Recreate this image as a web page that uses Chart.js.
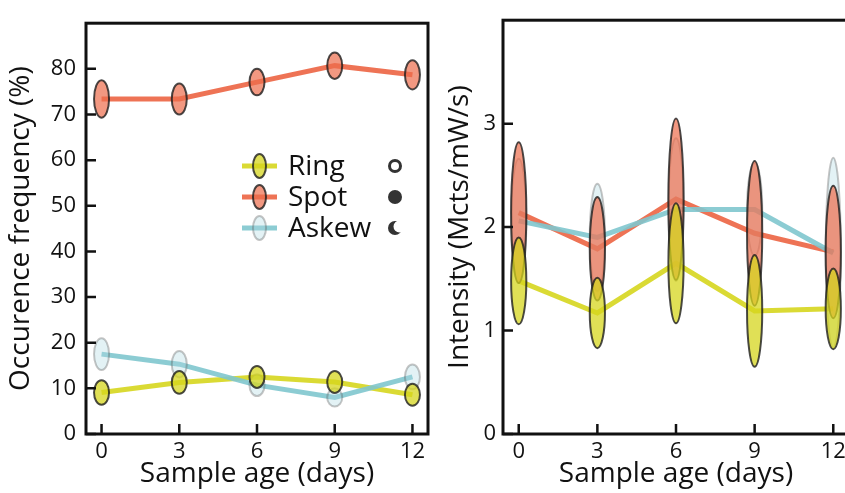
<!DOCTYPE html>
<html>
<head>
<meta charset="utf-8">
<script src="https://cdn.jsdelivr.net/npm/chart.js@4.4.1/dist/chart.umd.min.js"></script>
<style>
html,body{margin:0;padding:0;background:#fff;overflow:hidden;width:845px;height:493px}
#wrap{position:relative;width:845px;height:493px;overflow:hidden}
#left{position:absolute;left:0;top:0}
#right{position:absolute;left:440px;top:0}
</style>
</head>
<body>
<div id="wrap">
  <canvas id="left" width="440" height="493"></canvas>
  <canvas id="right" width="420" height="493"></canvas>
</div>
<script>
// data
const days = [0, 3, 6, 9, 12];
const dayTicks = [0, 3, 6, 9, 12];
const freqTicks = [0, 10, 20, 30, 40, 50, 60, 70, 80];
const intTicks = [0, 1, 2, 3];

const freqRing  = [9.1, 11.3, 12.5, 11.4, 8.6];
const freqSpot  = [73.4, 73.4, 77.1, 80.7, 78.7];
const freqAskew = [17.5, 15.3, 10.7, 8.0, 12.5];
const freqRingErr  = [2.7, 2.5, 2.4, 2.4, 2.4];
const freqSpotErr  = [4.1, 3.4, 2.9, 2.9, 3.2];
const freqAskewErr = [3.5, 2.9, 2.4, 2.0, 2.7];

const intRing  = [1.48, 1.17, 1.65, 1.19, 1.21];
const intSpot  = [2.14, 1.79, 2.27, 1.94, 1.76];
const intAskew = [2.06, 1.90, 2.17, 2.17, 1.75];
const intRingErr  = [0.42, 0.34, 0.58, 0.54, 0.39];
const intSpotErr  = [0.68, 0.50, 0.78, 0.70, 0.64];
const intAskewErr = [0.60, 0.52, 0.69, 0.45, 0.92];

const seriesNames = ['Ring', 'Spot', 'Askew'];

const FONT = "'Open Sans', sans-serif";
const INK = '#111';
const styles = {
  Ring:  {line: 'rgba(214,214,30,0.9)',  fill: 'rgba(214,214,30,0.75)',  edge: 'rgba(30,30,30,0.8)'},
  Spot:  {line: 'rgba(236,100,66,0.9)',  fill: 'rgba(236,108,76,0.7)',   edge: 'rgba(30,30,30,0.8)'},
  Askew: {line: 'rgba(128,198,206,0.9)', fill: 'rgba(175,218,226,0.35)', edge: 'rgba(90,90,90,0.35)'}
};

function qs(sel){return document.querySelector(sel)}

function toPoints(vals){ return vals.map((v,i)=>({x: days[i], y: v})) }

function makeDatasets(vals, errs){
  return seriesNames.map((name,i)=>({
    label: name,
    data: toPoints(vals[i]),
    err: errs[i],
    borderColor: styles[name].line,
    borderWidth: 5,
    pointRadius: 0,
    tension: 0,
    order: 3 - i
  }));
}

// ellipse markers: width fixed in days, height = +/- err in y units
const ellipses = {
  id: 'ellipses',
  afterDatasetsDraw(chart, args, opts){
    const {ctx, scales:{x, y}} = chart;
    ctx.save();
    ctx.beginPath();
    ctx.rect(chart.chartArea.left, chart.chartArea.top, chart.chartArea.width + 20, chart.chartArea.height);
    ctx.clip();
    for (let d = chart.data.datasets.length - 1; d >= 0; d--) {
      const ds = chart.data.datasets[d];
      const st = styles[ds.label];
      ds.data.forEach((p, i) => {
        const cx = x.getPixelForValue(p.x);
        const cy = y.getPixelForValue(p.y);
        const rx = Math.abs(x.getPixelForValue(p.x + opts.halfWidth) - cx);
        const ry = Math.abs(y.getPixelForValue(p.y + ds.err[i]) - cy);
        ctx.beginPath();
        ctx.ellipse(cx, cy, rx, ry, 0, 0, Math.PI * 2);
        ctx.fillStyle = st.fill;
        ctx.fill();
        ctx.lineWidth = 2;
        ctx.strokeStyle = st.edge;
        ctx.stroke();
      });
    }
    ctx.restore();
  }
};

// box frame with inward ticks
const frame = {
  id: 'frame',
  afterDraw(chart){
    const {ctx, chartArea: a, scales:{x, y}} = chart;
    ctx.save();
    ctx.strokeStyle = INK;
    ctx.lineWidth = 3;
    ctx.strokeRect(a.left, a.top, a.width, a.height);
    ctx.lineWidth = 2.5;
    ctx.beginPath();
    x.ticks.forEach(t => {
      const px = x.getPixelForValue(t.value);
      ctx.moveTo(px, a.bottom); ctx.lineTo(px, a.bottom - 10);
    });
    y.ticks.forEach(t => {
      const py = y.getPixelForValue(t.value);
      ctx.moveTo(a.left, py); ctx.lineTo(a.left + 10, py);
    });
    ctx.stroke();
    ctx.restore();
  }
};

// legend inside left panel, with the shape keys on the right
const legendBox = {
  id: 'legendBox',
  afterDraw(chart, args, opts){
    if (!opts.show) return;
    const {ctx} = chart;
    ctx.save();
    seriesNames.forEach((name, i) => {
      const yy = opts.y + i * opts.gap;
      const st = styles[name];
      ctx.strokeStyle = st.line;
      ctx.lineWidth = 5;
      ctx.beginPath();
      ctx.moveTo(opts.x, yy); ctx.lineTo(opts.x + 35, yy);
      ctx.stroke();
      ctx.beginPath();
      ctx.ellipse(opts.x + 17.5, yy, 6.5, 12, 0, 0, Math.PI * 2);
      ctx.fillStyle = st.fill; ctx.fill();
      ctx.lineWidth = 2; ctx.strokeStyle = st.edge; ctx.stroke();
      ctx.fillStyle = INK;
      ctx.font = `28px ${FONT}`;
      ctx.textBaseline = 'middle';
      ctx.textAlign = 'left';
      ctx.fillText(name, opts.x + 46, yy + 1);
      // key shapes
      const sx = opts.x + 153;
      ctx.fillStyle = '#333'; ctx.strokeStyle = '#333';
      if (i === 0) {
        ctx.lineWidth = 3;
        ctx.beginPath(); ctx.arc(sx, yy, 5.5, 0, Math.PI * 2); ctx.stroke();
      } else if (i === 1) {
        ctx.beginPath(); ctx.arc(sx, yy, 7, 0, Math.PI * 2); ctx.fill();
      } else {
        ctx.save();
        ctx.beginPath();
        ctx.rect(sx - 20, yy - 20, 40, 40);
        ctx.arc(sx + 4.5, yy - 1.5, 6, 0, Math.PI * 2);
        ctx.clip('evenodd');
        ctx.beginPath(); ctx.arc(sx, yy, 7, 0, Math.PI * 2); ctx.fill();
        ctx.restore();
      }
    });
    ctx.restore();
  }
};

function fixTicks(list){ return scale => { scale.ticks = list.map(v => ({value: v})); } }

function makeChart(el, datasets, cfg){
  return new Chart(el, {
    type: 'line',
    data: {datasets},
    plugins: [ellipses, frame, legendBox],
    options: {
      responsive: false,
      animation: false,
      layout: {padding: {top: 14, right: cfg.padRight, left: 0, bottom: 0}},
      plugins: {
        legend: {display: false},
        tooltip: {enabled: false},
        ellipses: {halfWidth: 0.29},
        legendBox: cfg.legend
      },
      scales: {
        x: {
          type: 'linear', min: -0.6, max: 12.6,
          afterBuildTicks: fixTicks(dayTicks),
          afterFit: s => { s.height = 59; },
          grid: {display: false, drawTicks: false},
          border: {display: false},
          ticks: {padding: 5, color: INK, font: {family: FONT, size: 22}},
          title: {display: true, text: 'Sample age (days)', color: INK,
                  font: {family: FONT, size: 28}, padding: {top: 0, bottom: 2}}
        },
        y: {
          type: 'linear', min: 0, max: cfg.yMax,
          afterBuildTicks: fixTicks(cfg.yTicks),
          afterFit: s => { s.width = cfg.yWidth; },
          grid: {display: false, drawTicks: false},
          border: {display: false},
          ticks: {padding: cfg.yTickPad, color: INK, font: {family: FONT, size: 22}},
          title: {display: true, text: cfg.yTitle, color: INK,
                  font: {family: FONT, size: 28}, padding: {top: cfg.yTitlePad, bottom: 0}}
        }
      }
    }
  });
}

makeChart(qs('#left'),
  makeDatasets([freqRing, freqSpot, freqAskew], [freqRingErr, freqSpotErr, freqAskewErr]),
  {yMax: 90, yTicks: freqTicks, yTitle: 'Occurence frequency (%)', yWidth: 86, yTickPad: 10,
   yTitlePad: 4, padRight: 12, legend: {show: true, x: 242, y: 166, gap: 31}});

makeChart(qs('#right'),
  makeDatasets([intRing, intSpot, intAskew], [intRingErr, intSpotErr, intAskewErr]),
  {yMax: 4, yTicks: intTicks, yTitle: 'Intensity (Mcts/mW/s)', yWidth: 63, yTickPad: 7,
   yTitlePad: 3, padRight: 11, legend: {show: false}});
</script>
</body>
</html>
